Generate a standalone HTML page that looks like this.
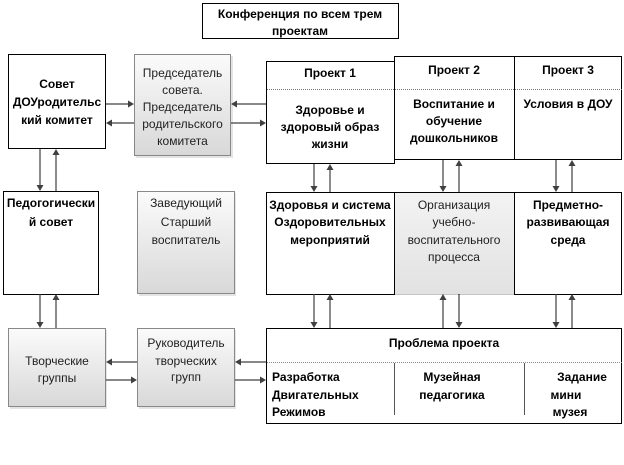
<!DOCTYPE html>
<html>
<head>
<meta charset="utf-8">
<style>
  html,body{margin:0;padding:0;background:#fff;}
  svg{display:block;}
  text{font-family:"Liberation Sans","Noto Sans CJK SC",sans-serif;font-size:12px;text-anchor:middle;}
  .b{font-weight:bold;fill:#000;}
  .n{fill:#1e1e1e;}
</style>
</head>
<body>
<svg width="624" height="465" viewBox="0 0 624 465" xmlns="http://www.w3.org/2000/svg">
  <defs>
    <linearGradient id="g" x1="0" y1="0" x2="0" y2="1">
      <stop offset="0" stop-color="#fbfbfb"/>
      <stop offset="1" stop-color="#d8d8d8"/>
    </linearGradient>
    <linearGradient id="g2" x1="0" y1="0" x2="0" y2="1">
      <stop offset="0" stop-color="#f3f3f3"/>
      <stop offset="1" stop-color="#e2e2e2"/>
    </linearGradient>
  </defs>

  <!-- Top conference box -->
  <rect x="202.5" y="3.5" width="196" height="35" fill="#fff" stroke="#000" stroke-width="1"/>
  <text class="b" x="300" y="18">Конференция по всем трем</text>
  <text class="b" x="300" y="35">проектам</text>

  <!-- Совет ДОУ -->
  <rect x="8.5" y="54.5" width="97" height="94" fill="#fff" stroke="#000"/>
  <text class="b" x="57" y="88">Совет</text>
  <text class="b" x="57" y="106">ДОУродительс</text>
  <text class="b" x="57" y="124">кий комитет</text>

  <!-- Председатель (gray) -->
  <rect x="136" y="56" width="97" height="102" fill="#e4e4e4"/>
  <rect x="134.5" y="54.5" width="96" height="101" fill="url(#g)" stroke="#888"/>
  <text class="n" x="182.5" y="77">Председатель</text>
  <text class="n" x="182.5" y="94">совета.</text>
  <text class="n" x="182.5" y="111">Председатель</text>
  <text class="n" x="182.5" y="128">родительского</text>
  <text class="n" x="182.5" y="145">комитета</text>

  <!-- Projects -->
  <rect x="394.5" y="56.5" width="120" height="103" fill="#fff" stroke="#000"/>
  <rect x="514.5" y="56.5" width="107" height="103" fill="#fff" stroke="#000"/>
  <rect x="266.5" y="61.5" width="128" height="102" fill="#fff" stroke="#000"/>
  <line x1="267" y1="89.5" x2="622" y2="89.5" stroke="#777" stroke-width="1" stroke-dasharray="1,1"/>
  <text class="b" x="330" y="77">Проект 1</text>
  <text class="b" x="454" y="74">Проект 2</text>
  <text class="b" x="568" y="74">Проект 3</text>
  <text class="b" x="330" y="114">Здоровье и</text>
  <text class="b" x="330" y="131">здоровый образ</text>
  <text class="b" x="330" y="148">жизни</text>
  <text class="b" x="454" y="108">Воспитание и</text>
  <text class="b" x="454" y="125">обучение</text>
  <text class="b" x="454" y="142">дошкольников</text>
  <text class="b" x="568" y="108">Условия в ДОУ</text>

  <!-- Педогогический совет -->
  <rect x="3.5" y="191.5" width="95" height="103" fill="#fff" stroke="#000"/>
  <text class="b" x="51" y="207">Педогогически</text>
  <text class="b" x="51" y="226">й совет</text>

  <!-- Заведующий (gray) -->
  <rect x="139" y="193" width="97" height="103" fill="#e4e4e4"/>
  <rect x="137.5" y="191.5" width="97" height="102" fill="url(#g)" stroke="#888"/>
  <text class="n" x="186" y="207">Заведующий</text>
  <text class="n" x="186" y="226">Старший</text>
  <text class="n" x="186" y="244">воспитатель</text>

  <!-- Middle row -->
  <rect x="394.5" y="192.5" width="120" height="102" fill="url(#g2)" stroke="#999" stroke-dasharray="1,1"/>
  <rect x="266.5" y="192.5" width="128" height="102" fill="#fff" stroke="#000"/>
  <rect x="514.5" y="192.5" width="107" height="102" fill="#fff" stroke="#000"/>
  <line x1="266" y1="192.5" x2="622" y2="192.5" stroke="#000"/>
  <text class="b" x="330" y="209">Здоровья и система</text>
  <text class="b" x="330" y="226">Оздоровительных</text>
  <text class="b" x="330" y="244">мероприятий</text>
  <text class="n" x="454" y="209">Организация</text>
  <text class="n" x="454" y="226">учебно-</text>
  <text class="n" x="454" y="244">воспитательного</text>
  <text class="n" x="454" y="261">процесса</text>
  <text class="b" x="568" y="209">Предметно-</text>
  <text class="b" x="568" y="226">развивающая</text>
  <text class="b" x="568" y="244">среда</text>

  <!-- Творческие группы (gray) -->
  <rect x="10" y="330" width="97" height="79" fill="#e4e4e4"/>
  <rect x="8.5" y="328.5" width="97" height="78" fill="url(#g)" stroke="#888"/>
  <text class="n" x="57" y="365">Творческие</text>
  <text class="n" x="57" y="382">группы</text>

  <!-- Руководитель (gray) -->
  <rect x="139" y="330" width="97" height="79" fill="#e4e4e4"/>
  <rect x="137.5" y="328.5" width="97" height="78" fill="url(#g)" stroke="#888"/>
  <text class="n" x="186" y="347">Руководитель</text>
  <text class="n" x="186" y="365">творческих</text>
  <text class="n" x="186" y="381">групп</text>

  <!-- Проблема проекта -->
  <rect x="266.5" y="328.5" width="355" height="95" fill="#fff" stroke="#000"/>
  <line x1="267" y1="362.5" x2="622" y2="362.5" stroke="#888" stroke-dasharray="1,1"/>
  <line x1="394.5" y1="363" x2="394.5" y2="415" stroke="#555"/>
  <line x1="524.5" y1="363" x2="524.5" y2="415" stroke="#555"/>
  <text class="b" x="444" y="347">Проблема проекта</text>
  <text class="b" x="272" y="381" style="text-anchor:start">Разработка</text>
  <text class="b" x="272" y="399" style="text-anchor:start">Двигательных</text>
  <text class="b" x="272" y="416" style="text-anchor:start">Режимов</text>
  <text class="b" x="452" y="381">Музейная</text>
  <text class="b" x="452" y="399">педагогика</text>
  <text class="b" x="582" y="381">Задание</text>
  <text class="b" x="566" y="399">мини</text>
  <text class="b" x="570" y="416">музея</text>

  <!-- Connectors -->
  <g stroke="#404040" stroke-width="1.2" fill="none">
    <line x1="106" y1="104" x2="129" y2="104"/>
    <line x1="111" y1="123" x2="134" y2="123"/>
    <line x1="236" y1="104" x2="266" y2="104"/>
    <line x1="231" y1="123" x2="261" y2="123"/>
    <line x1="111" y1="362" x2="137" y2="362"/>
    <line x1="106" y1="380" x2="132" y2="380"/>
    <line x1="240" y1="362" x2="266" y2="362"/>
    <line x1="235" y1="380" x2="261" y2="380"/>
    <line x1="40" y1="149" x2="40" y2="186"/>
    <line x1="56" y1="154" x2="56" y2="191"/>
    <line x1="40" y1="294" x2="40" y2="323"/>
    <line x1="56" y1="299" x2="56" y2="328"/>
    <line x1="314" y1="164" x2="314" y2="187"/>
    <line x1="330" y1="169" x2="330" y2="192"/>
    <line x1="443" y1="160" x2="443" y2="187"/>
    <line x1="459" y1="165" x2="459" y2="192"/>
    <line x1="556" y1="160" x2="556" y2="187"/>
    <line x1="572" y1="165" x2="572" y2="192"/>
    <line x1="314" y1="294" x2="314" y2="323"/>
    <line x1="330" y1="299" x2="330" y2="328"/>
    <line x1="443" y1="299" x2="443" y2="328"/>
    <line x1="459" y1="294" x2="459" y2="323"/>
    <line x1="556" y1="294" x2="556" y2="323"/>
    <line x1="572" y1="299" x2="572" y2="328"/>
  </g>
  <g fill="#404040">
    <polygon points="134,104 128,100.5 128,107.5"/>
    <polygon points="266,123 260,119.5 260,126.5"/>
    <polygon points="137,380 131,376.5 131,383.5"/>
    <polygon points="266,380 260,376.5 260,383.5"/>
    <polygon points="106,123 112,119.5 112,126.5"/>
    <polygon points="231,104 237,100.5 237,107.5"/>
    <polygon points="106,362 112,358.5 112,365.5"/>
    <polygon points="235,362 241,358.5 241,365.5"/>
    <polygon points="40,191 36.5,185 43.5,185"/>
    <polygon points="40,328 36.5,322 43.5,322"/>
    <polygon points="314,192 310.5,186 317.5,186"/>
    <polygon points="443,192 439.5,186 446.5,186"/>
    <polygon points="556,192 552.5,186 559.5,186"/>
    <polygon points="314,328 310.5,322 317.5,322"/>
    <polygon points="459,328 455.5,322 462.5,322"/>
    <polygon points="556,328 552.5,322 559.5,322"/>
    <polygon points="56,149 52.5,155 59.5,155"/>
    <polygon points="56,294 52.5,300 59.5,300"/>
    <polygon points="330,164 326.5,170 333.5,170"/>
    <polygon points="459,160 455.5,166 462.5,166"/>
    <polygon points="572,160 568.5,166 575.5,166"/>
    <polygon points="330,294 326.5,300 333.5,300"/>
    <polygon points="443,294 439.5,300 446.5,300"/>
    <polygon points="572,294 568.5,300 575.5,300"/>
  </g>
</svg>
</body>
</html>
